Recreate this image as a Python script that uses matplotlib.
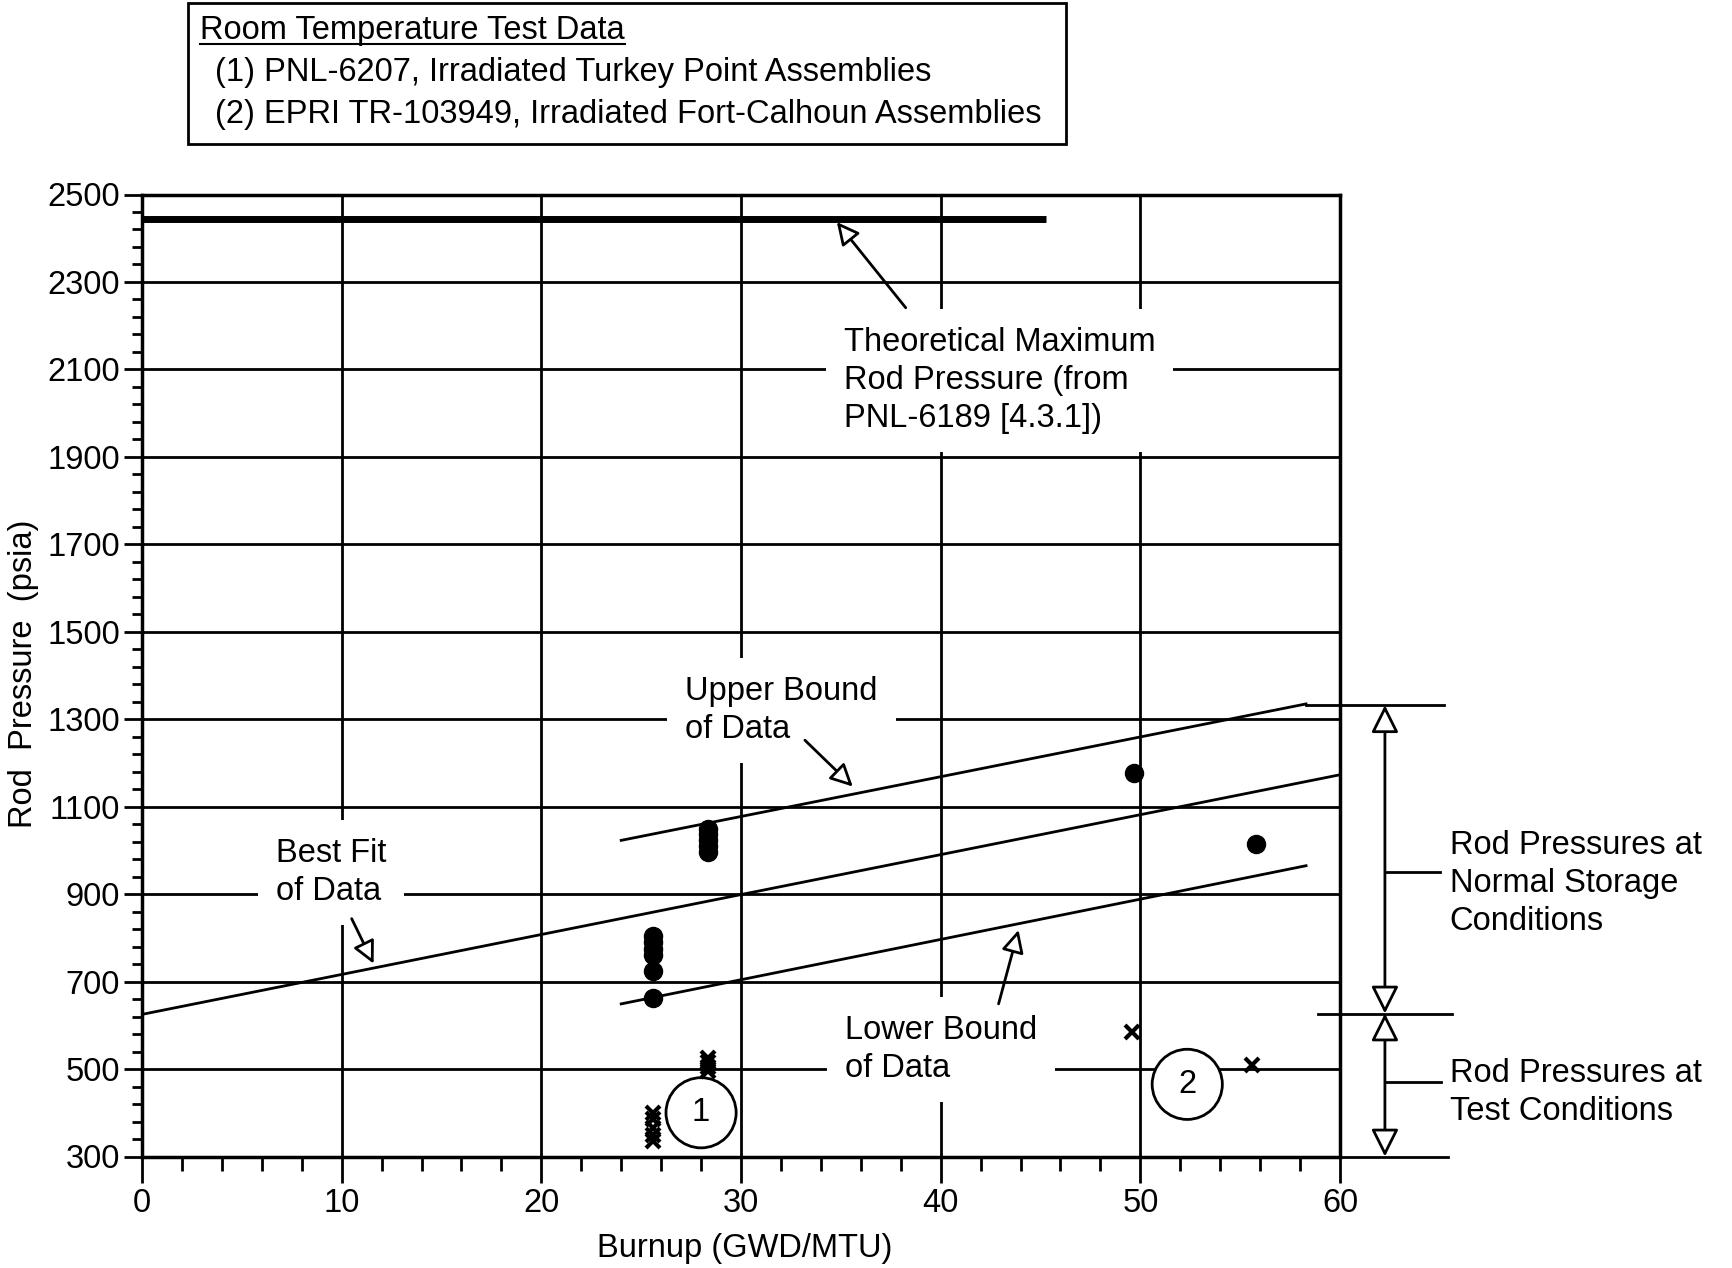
import numpy as np
import matplotlib.pyplot as plt
from matplotlib.patches import Rectangle
from matplotlib.lines import Line2D

plt.rcParams['font.family'] = ['Liberation Sans', 'DejaVu Sans']
FS = 23.5

# measured rod pressures at normal storage conditions (circles)
circ_x = [25.6, 25.6, 25.6, 25.6, 25.6, 25.6, 28.35, 28.35, 28.35, 28.35, 28.35, 49.7, 55.8]
circ_y = [805, 790, 775, 760, 725, 662, 1050, 1037, 1024, 1010, 997, 1177, 1015]
# rod pressures at test conditions (crosses)
cross_x = [25.6, 25.6, 25.6, 25.6, 25.6, 28.35, 28.35, 28.35, 28.35, 49.6, 55.6]
cross_y = [400, 385, 365, 350, 335, 525, 515, 505, 495, 585, 510]

# fitted lines
fit_x = [0, 60]
fit_y = [625, 1173]
upper_x = [24, 58.3]
upper_y = [1023, 1335]
lower_x = [24, 58.3]
lower_y = [649, 965]
theo_x = [0, 45.3]
theo_y = [2445, 2445]

xticks = list(range(0, 61, 10))
yticks = list(range(300, 2501, 200))

fig = plt.figure(figsize=(17.32, 12.68), dpi=100)
ax = fig.add_axes([142/1732, 1 - 1156.5/1268, 1198/1732, 962/1268])
ax.set_xlim(0, 60)
ax.set_ylim(300, 2500)
ax.set_xticks(xticks)
ax.set_xticks(np.arange(0, 61, 2), minor=True)
ax.set_yticks(yticks)
ax.set_yticks(np.arange(300, 2501, 40), minor=True)
ax.tick_params(axis='y', which='major', direction='out', length=13, width=2, labelsize=FS, pad=3)
ax.tick_params(axis='y', which='minor', direction='out', length=7, width=2)
ax.tick_params(axis='x', which='major', direction='out', length=19, width=2, labelsize=FS, pad=4)
ax.tick_params(axis='x', which='minor', direction='out', length=10, width=2)
ax.grid(True, which='major', color='black', lw=2)
for s in ax.spines.values():
    s.set_linewidth(2.5)

ax.plot(theo_x, theo_y, color='black', lw=5, solid_capstyle='butt')
ax.plot(fit_x, fit_y, color='black', lw=2)
ax.plot(upper_x, upper_y, color='black', lw=2)
ax.plot(lower_x, lower_y, color='black', lw=2)
ax.plot(circ_x, circ_y, 'o', color='black', ms=13, zorder=4)
ax.plot(cross_x, cross_y, 'x', color='black', ms=10, mew=3, zorder=4)

box = dict(boxstyle='square,pad=0.55', fc='white', ec='none')
arr = dict(arrowstyle='-|>', fc='white', ec='black', lw=2, mutation_scale=34,
           shrinkA=0, shrinkB=0)

ax.text(35.15, 2074, 'Theoretical Maximum\nRod Pressure (from\nPNL-6189 [4.3.1])',
        fontsize=FS, va='center', ha='left', linespacing=1.3, bbox=box, zorder=3)
ax.annotate('', xy=(34.8, 2437), xytext=(38.25, 2241), arrowprops=arr)

ax.text(27.2, 1320, 'Upper Bound\nof Data', fontsize=FS, va='center', ha='left',
        linespacing=1.3, bbox=box, zorder=3)
ax.annotate('', xy=(35.6, 1146), xytext=(33.2, 1252), arrowprops=arr)

ax.text(6.7, 950, 'Best Fit\nof Data', fontsize=FS, va='center', ha='left',
        linespacing=1.3, bbox=box, zorder=3)
ax.annotate('', xy=(11.6, 741), xytext=(10.5, 844), arrowprops=arr)

ax.text(35.2, 544, 'Lower Bound\nof Data', fontsize=FS, va='center', ha='left',
        linespacing=1.3, bbox=box, zorder=3)
ax.annotate('', xy=(43.9, 818), xytext=(42.9, 649), arrowprops=arr)

circ_box = dict(boxstyle='circle,pad=0.6', fc='white', ec='black', lw=2)
ax.text(28, 400, '1', fontsize=FS, ha='center', va='center', bbox=circ_box, zorder=3)
ax.text(52.35, 465, '2', fontsize=FS, ha='center', va='center', bbox=circ_box, zorder=3)

# dimension lines on the right
ax.plot([58.3, 65.2], [1332, 1332], color='black', lw=2, clip_on=False)
ax.plot([58.9, 65.6], [627, 627], color='black', lw=2, clip_on=False)
ax.plot([58.8, 65.4], [300, 300], color='black', lw=2, clip_on=False)
dim = dict(arrowstyle='<|-|>', fc='white', ec='black', lw=2, mutation_scale=42,
           shrinkA=0, shrinkB=0)
ax.annotate('', xy=(62.25, 1332), xytext=(62.25, 627), arrowprops=dim, annotation_clip=False)
ax.annotate('', xy=(62.25, 627), xytext=(62.25, 300), arrowprops=dim, annotation_clip=False)
ax.plot([62.25, 65.0], [951, 951], color='black', lw=2, clip_on=False)
ax.plot([62.25, 65.05], [470, 470], color='black', lw=2, clip_on=False)
ax.text(65.5, 925, 'Rod Pressures at\nNormal Storage\nConditions', fontsize=FS,
        va='center', ha='left', linespacing=1.3)
ax.text(65.5, 447, 'Rod Pressures at\nTest Conditions', fontsize=FS,
        va='center', ha='left', linespacing=1.3)

fig.text(24/1732, 1 - 674/1268, 'Rod  Pressure  (psia)', rotation=90, fontsize=FS,
         ha='center', va='center')
fig.text(745/1732, 1 - 1248/1268, 'Burnup (GWD/MTU)', fontsize=FS, ha='center', va='center')

# source box at top
fig.add_artist(Rectangle((188/1732, 1 - 144/1268), 878/1732, 141/1268, fill=False,
                         lw=2, ec='black', transform=fig.transFigure))
title = fig.text(200/1732, 1 - 31/1268, 'Room Temperature Test Data', fontsize=FS,
                 ha='left', va='center')
fig.text(215/1732, 1 - 73/1268, '(1) PNL-6207, Irradiated Turkey Point Assemblies',
         fontsize=FS, ha='left', va='center')
fig.text(215/1732, 1 - 115/1268, '(2) EPRI TR-103949, Irradiated Fort-Calhoun Assemblies',
         fontsize=FS, ha='left', va='center')
fig.canvas.draw()
bb = title.get_window_extent().transformed(fig.transFigure.inverted())
fig.add_artist(Line2D([bb.x0, bb.x1], [bb.y0 + 0.002, bb.y0 + 0.002], color='black',
                      lw=1.5, transform=fig.transFigure))

fig.savefig('out.png', dpi=100)
